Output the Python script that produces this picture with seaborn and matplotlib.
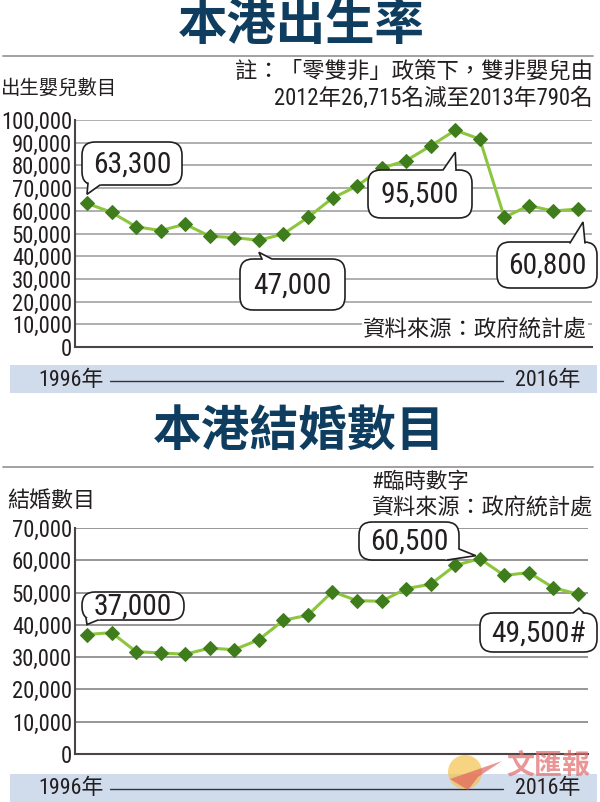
import matplotlib
matplotlib.use("Agg")
import matplotlib.pyplot as plt
import seaborn as sns
import pandas as pd
import numpy as np
from matplotlib import font_manager as fm
from matplotlib.patches import FancyBboxPatch, Rectangle, Polygon, Circle
from matplotlib.ticker import FuncFormatter

# ---------------- data ----------------
years = list(range(1996, 2017))
births = [63300, 59300, 53000, 51300, 54100, 48800, 48200, 47000, 49800, 57100,
          65600, 70900, 78800, 82100, 88600, 95500, 91600, 57100, 62300, 59900, 60800]
marriages = [37000, 37600, 31700, 31300, 30900, 32800, 32300, 35400, 41400, 43000,
             50300, 47500, 47300, 51200, 52600, 58400, 60500, 55300, 56200, 51500, 49500]
birth_ticks = list(range(0, 100001, 10000))
marr_ticks = list(range(0, 70001, 10000))

title1 = "本港出生率"
title2 = "本港結婚數目"
ylabel1 = "出生嬰兒數目"
ylabel2 = "結婚數目"
note1 = "註：「零雙非」政策下，雙非嬰兒由"
note2 = "2012年26,715名減至2013年790名"
source = "資料來源：政府統計處"
prov = "#臨時數字"
start_lbl = "1996年"
end_lbl = "2016年"
logo_txt = "文匯報"

# callouts: (year index, text)
birth_callouts = [(0, "63,300"), (7, "47,000"), (15, "95,500"), (20, "60,800")]
marr_callouts = [(0, "37,000"), (16, "60,500"), (20, "49,500#")]

# ---------------- style ----------------
sns.set_theme(style="white")
CJK = "Noto Sans CJK TC"
installed = {f.name for f in fm.fontManager.ttflist}
NUMF = "Liberation Sans"
for cand in ["Liberation Sans Narrow", "Roboto Condensed", "Arial Narrow",
             "Open Sans Condensed", "Liberation Sans"]:
    if cand in installed:
        NUMF = cand
        break
NUM = [NUMF, CJK, "DejaVu Sans"]
plt.rcParams["font.family"] = NUM

LINE_C = "#8cc63e"
MARK_C = "#3f7d1c"
TITLE_C = "#0e3d5f"
BAND_C = "#d0dbeb"
TXT_C = "#231f20"

W, H = 600, 802
fig = plt.figure(figsize=(W / 100, H / 100), dpi=100)
fig.patch.set_facecolor("white")
renderer = fig.canvas.get_renderer()


def fit(s, target_px, family=NUM, weight="normal", cap=None):
    t = fig.text(0, 0, s, fontsize=10, family=family, fontweight=weight)
    w = t.get_window_extent(renderer).width
    t.remove()
    size = 10 * target_px / w
    if cap is not None:
        size = min(size, cap)
    return size


TICK_FS = fit("100,000", 71, cap=16.5)
CALL_FS = fit("63,300", 78, cap=22)
BAND_FS = fit(start_lbl, 65, cap=16.5)


def rect(x0, y0, x1, y1):
    return [x0 / W, 1 - y1 / H, (x1 - x0) / W, (y1 - y0) / H]


def setup_axes(ax, ticks, grid_c, xr):
    ax.set_xlim(-0.489, xr)
    ax.set_ylim(ticks[0], ticks[-1])
    ax.set_yticks(ticks)
    ax.yaxis.set_major_formatter(FuncFormatter(lambda v, p: f"{int(v):,}"))
    ax.set_xticks([])
    ax.tick_params(axis="y", length=0, pad=2.2, labelsize=TICK_FS, labelcolor=TXT_C)
    for lab in ax.get_yticklabels():
        lab.set_family(NUM)
    ax.grid(axis="y", color=grid_c, linewidth=1.1)
    ax.grid(axis="x", visible=False)
    ax.set_axisbelow(True)
    for s in ["top", "right"]:
        ax.spines[s].set_visible(False)
    for s in ["left", "bottom"]:
        ax.spines[s].set_color("#4a4446")
        ax.spines[s].set_linewidth(1.5)
    ax.set_xlabel("")
    ax.set_ylabel("")
    ax.set_facecolor("white")


df1 = pd.DataFrame({"i": range(len(years)), "v": births})
df2 = pd.DataFrame({"i": range(len(years)), "v": marriages})

ax1 = fig.add_axes(rect(75, 120, 592, 347))
sns.lineplot(data=df1, x="i", y="v", ax=ax1, color=LINE_C, linewidth=2.2,
             marker="D", markersize=7, markerfacecolor=MARK_C, markeredgecolor=MARK_C,
             clip_on=False)
setup_axes(ax1, birth_ticks, "#9a9a9a", 20.57)

ax2 = fig.add_axes(rect(75, 528, 588, 754))
sns.lineplot(data=df2, x="i", y="v", ax=ax2, color=LINE_C, linewidth=2.2,
             marker="D", markersize=7, markerfacecolor=MARK_C, markeredgecolor=MARK_C,
             clip_on=False)
setup_axes(ax2, marr_ticks, "#7a7a7a", 20.41)

# ---------------- overlay (pixel coordinates, y down) ----------------
ov = fig.add_axes([0, 0, 1, 1], zorder=5)
ov.set_xlim(0, W)
ov.set_ylim(H, 0)
ov.axis("off")
ov.patch.set_alpha(0)


def to_px(ax, xi, yv):
    d = ax.transData.transform((xi, yv))
    return ov.transData.inverted().transform(d)


# titles and rules
ov.text(301, 25, title1, fontsize=fit(title1, 247, [CJK], "heavy"), fontweight="heavy",
        color=TITLE_C, family=[CJK], ha="center", va="center")
ov.plot([3, 593], [56, 56], color="#9a9a9a", lw=1.3)
ov.text(299, 431, title2, fontsize=fit(title2, 292, [CJK], "heavy"), fontweight="heavy",
        color=TITLE_C, family=[CJK], ha="center", va="center")
ov.plot([3, 593], [467, 467], color="#9a9a9a", lw=1.3)

# axis labels / notes
ov.text(1, 88, ylabel1, fontsize=fit(ylabel1, 116, [CJK]), color=TXT_C, family=[CJK],
        ha="left", va="center")
ov.text(593, 72, note1, fontsize=fit(note1, 358), color=TXT_C, family=NUM,
        ha="right", va="center")
ov.text(593, 98, note2, fontsize=fit(note2, 318), color=TXT_C, family=NUM,
        ha="right", va="center")
ov.text(587, 330, source, fontsize=fit(source, 224), color=TXT_C, family=NUM,
        ha="right", va="center",
        bbox=dict(boxstyle="square,pad=0.05", fc="white", ec="none"))

ov.text(7, 501, ylabel2, fontsize=fit(ylabel2, 88, [CJK]), color=TXT_C, family=[CJK],
        ha="left", va="center")
ov.text(372, 482, prov, fontsize=fit(prov, 98), color=TXT_C, family=NUM,
        ha="left", va="center")
ov.text(372, 509, source, fontsize=fit(source, 221), color=TXT_C, family=NUM,
        ha="left", va="center")

# bottom bands
for (ytop, lbl_y) in [(365, 380), (774, 788)]:
    ov.add_patch(Rectangle((10, ytop), 587, 28, facecolor=BAND_C, edgecolor="none", zorder=1))
    ov.plot([110, 503], [lbl_y + 1, lbl_y + 1], color="#333333", lw=1.0, zorder=2)
    ov.text(38, lbl_y, start_lbl, fontsize=BAND_FS, color=TXT_C, family=NUM,
            ha="left", va="center", zorder=4)

# logo watermark (sits partly behind the 2016年 label, as in the original)
ov.add_patch(Circle((465, 772), 17, facecolor="#f5c24c", edgecolor="none", alpha=0.7, zorder=2))
ov.add_patch(Polygon([[450, 779], [502, 761], [478, 777], [468, 790]], closed=True,
                     facecolor="#e05a5a", edgecolor="none", alpha=0.65, zorder=2))
ov.text(548, 766, logo_txt, fontsize=fit(logo_txt, 84, [CJK], "bold"), fontweight="bold",
        color="#e26a6a", alpha=0.7, family=[CJK], ha="center", va="center", zorder=2)
for lbl_y in [380, 788]:
    ov.text(580, lbl_y, end_lbl, fontsize=BAND_FS, color=TXT_C, family=NUM,
            ha="right", va="center", zorder=4)


def callout(box, text, base1, base2, tip, fs):
    x0, y0, x1, y1 = box
    ov.add_patch(FancyBboxPatch((x0, y0), x1 - x0, y1 - y0,
                                boxstyle="round,pad=0,rounding_size=13",
                                facecolor="white", edgecolor=TXT_C, lw=1.2, zorder=6))
    cx, cy = (x0 + x1) / 2, (y0 + y1) / 2

    def inward(p):
        vx, vy = cx - p[0], cy - p[1]
        n = np.hypot(vx, vy)
        return [p[0] + 3 * vx / n, p[1] + 3 * vy / n]

    ov.add_patch(Polygon([inward(base1), base1, tip, base2, inward(base2)], closed=True,
                         facecolor="white", edgecolor="none", zorder=7))
    ov.plot([base1[0], tip[0], base2[0]], [base1[1], tip[1], base2[1]],
            color=TXT_C, lw=1.2, zorder=8, solid_joinstyle="miter")
    ov.text(cx, cy + 1, text, fontsize=fs, color=TXT_C, family=NUM,
            ha="center", va="center", zorder=9)


# birth callouts
boxes1 = [(82, 142, 182, 185), (240, 259, 345, 310), (368, 170, 472, 218), (497, 242, 597, 288)]
tails1 = [((88, 183), (100, 185), (0, -9)),
          ((262, 259), (272, 259), (0, 12)),
          ((443, 170), (456, 170), (0, 22)),
          ((570, 243), (585, 243), (5, 13))]
for (i, txt), bx, (b1, b2, off) in zip(birth_callouts, boxes1, tails1):
    px, py = to_px(ax1, i, births[i])
    callout(bx, txt, list(b1), list(b2), [px + off[0], py + off[1]], CALL_FS)

boxes2 = [(82, 592, 184, 620), (359, 522, 459, 560), (480, 613, 597, 652)]
tails2 = [((86, 618), (98, 620), (0, -10)),
          ((447, 560), (459, 549), (-4, -3)),
          ((573, 613), (584, 613), (1, 14))]
for (i, txt), bx, (b1, b2, off) in zip(marr_callouts, boxes2, tails2):
    px, py = to_px(ax2, i, marriages[i])
    callout(bx, txt, list(b1), list(b2), [px + off[0], py + off[1]], CALL_FS)

fig.savefig("out.png", dpi=100, facecolor="white")
